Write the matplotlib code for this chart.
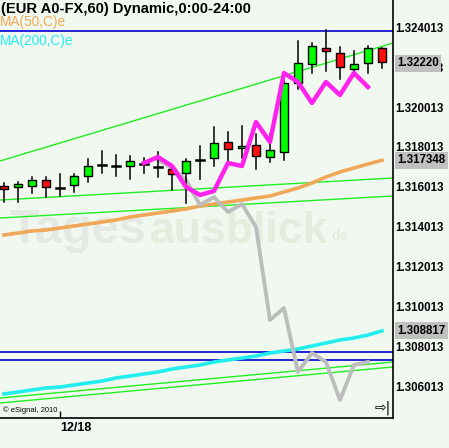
import matplotlib
matplotlib.use("Agg")
import matplotlib.pyplot as plt
from matplotlib.patches import Rectangle

# hourly EUR/USD candles (price values)
opens = [1.316063, 1.316013, 1.316063, 1.316363, 1.315963, 1.316113, 1.316563,
         1.317113, 1.317063, 1.317063, 1.317163, 1.317013, 1.316913, 1.316713,
         1.317363, 1.317463, 1.318263, 1.317963, 1.318113, 1.317513, 1.317763,
         1.321213, 1.322163, 1.322963, 1.322713, 1.321913, 1.322213, 1.322963]
highs = [1.316213, 1.316263, 1.316513, 1.316513, 1.316663, 1.316663, 1.317413,
         1.317813, 1.317613, 1.317563, 1.317463, 1.317763, 1.317063, 1.317413,
         1.318063, 1.319013, 1.318763, 1.319063, 1.318663, 1.318663, 1.321513,
         1.323313, 1.323213, 1.323863, 1.323013, 1.322813, 1.323063, 1.322963]
lows = [1.315263, 1.315263, 1.315713, 1.315513, 1.315563, 1.315763, 1.316263,
        1.316713, 1.316563, 1.316413, 1.316713, 1.316513, 1.315863, 1.315213,
        1.316413, 1.317063, 1.317213, 1.317463, 1.316913, 1.317263, 1.317363,
        1.320913, 1.321713, 1.321813, 1.321413, 1.321563, 1.321713, 1.321963]
closes = [1.315913, 1.316163, 1.316363, 1.316013, 1.315963, 1.316563, 1.317063,
          1.317113, 1.317063, 1.317313, 1.317163, 1.317013, 1.316663, 1.317313,
          1.317363, 1.318213, 1.317913, 1.318063, 1.317563, 1.317863, 1.321213,
          1.322213, 1.323063, 1.322813, 1.322013, 1.322163, 1.322963, 1.322263]

ma50 = [1.313613, 1.313713, 1.313813, 1.313863, 1.313963, 1.314063, 1.314163,
        1.314263, 1.314363, 1.314513, 1.314613, 1.314713, 1.314813, 1.314913,
        1.315063, 1.315163, 1.315263, 1.315363, 1.315463, 1.315563, 1.315763,
        1.315963, 1.316213, 1.316513, 1.316763, 1.316963, 1.317163, 1.317348]
ma200 = [1.305663, 1.305763, 1.305863, 1.305963, 1.306013, 1.306113, 1.306213,
         1.306313, 1.306463, 1.306563, 1.306663, 1.306763, 1.306913, 1.307013,
         1.307113, 1.307263, 1.307363, 1.307463, 1.307563, 1.307713, 1.307813,
         1.307913, 1.308063, 1.308213, 1.308363, 1.308463, 1.308613, 1.308817]

# overlay lines (start at candle 10 / 11)
magenta_start = 10
magenta = [1.317213, 1.317513, 1.317063, 1.316013, 1.315613, 1.315813, 1.317213,
           1.317063, 1.319263, 1.318263, 1.321713, 1.321263, 1.320213, 1.321263,
           1.320613, 1.321713, 1.321013]
gray_start = 11
gray = [1.317363, 1.316963, 1.316363, 1.315113, 1.315513, 1.314763, 1.315163,
        1.314013, 1.309363, 1.309963, 1.306763, 1.307713, 1.307263, 1.305363,
        1.307113, 1.307263]

# trend lines: price at left edge, price at right edge
trend_lines = [(1.317313, 1.323213), (1.315363, 1.316463), (1.314463, 1.315563),
               (1.305463, 1.307263), (1.305213, 1.307013)]
blue_levels = [1.323813, 1.307763, 1.307363]

y_ticks = [1.306013, 1.308013, 1.310013, 1.312013, 1.314013,
           1.316013, 1.318013, 1.320013, 1.322013, 1.324013]
marked = [(1.32220, "1.32220"), (1.317348, "1.317348"), (1.308817, "1.308817")]
date_tick = 4
date_label = "12/18"

BG = "#f0f8f0"
W, H = 449, 448
fig = plt.figure(figsize=(W / 100, H / 100), dpi=100, facecolor=BG)
ax = fig.add_axes([0, 30 / H, 393 / W, 418 / H], facecolor=BG)

x_lo, x_hi = -0.286, 27.79
ax.set_xlim(x_lo, x_hi)
ax.set_ylim(1.304463, 1.325363)

# faint watermark
ax.text(10 / 393, 1 - 243 / 418, "Tages", transform=ax.transAxes, fontsize=35,
        fontweight="bold", family="Liberation Sans", color="#e4e9e4", zorder=1)
ax.text(150 / 393, 1 - 243 / 418, "ausblick", transform=ax.transAxes,
        fontsize=32, fontweight="bold", family="Liberation Sans",
        color="#e4ecde", zorder=1)
ax.text(331 / 393, 1 - 240 / 418, "de", transform=ax.transAxes, fontsize=10,
        fontweight="bold", family="Liberation Sans", color="#e4ecde", zorder=1)

for lo, hi in trend_lines:
    ax.plot([x_lo, x_hi], [lo, hi], color="#22ee22", lw=1.0, zorder=2)
for lvl in blue_levels:
    ax.axhline(lvl, color="#0000cc", lw=1.2, zorder=2)

xs = list(range(len(closes)))
ax.plot(xs, ma50, color="#f0a858", lw=2.6, zorder=3)
ax.plot(xs, ma200, color="#22eef0", lw=2.6, zorder=3)
ax.plot(range(gray_start, gray_start + len(gray)), gray, color="#bdbdbd",
        lw=2.8, zorder=3)
ax.plot(range(magenta_start, magenta_start + len(magenta)), magenta,
        color="#ff22ee", lw=3.2, zorder=5)

bw = 0.58
for i, (o, h, l, c) in enumerate(zip(opens, highs, lows, closes)):
    ax.plot([i, i], [l, h], color="black", lw=1.1, zorder=4)
    if abs(c - o) < 1e-7:
        ax.plot([i - bw / 2, i + bw / 2], [o, o], color="black", lw=1.8, zorder=4)
        continue
    col = "#00ff00" if c > o else "#ff1010"
    ax.add_patch(Rectangle((i - bw / 2, min(o, c)), bw, abs(c - o),
                           facecolor=col, edgecolor="black", lw=1.0, zorder=4))

# axes frame
for side in ["top", "left"]:
    ax.spines[side].set_visible(False)
ax.spines["right"].set_linewidth(1.2)
ax.spines["bottom"].set_linewidth(1.2)

ax.yaxis.tick_right()
ax.set_yticks(y_ticks)
ax.set_yticklabels([f"{t:.6f}" for t in y_ticks], fontsize=8.3,
                   fontweight="bold", family="Liberation Sans")
ax.tick_params(axis="y", length=0, pad=1.5)
ax.set_xticks([date_tick])
ax.set_xticklabels([date_label], fontsize=9, fontweight="bold",
                   family="Liberation Sans", ha="left")
ax.tick_params(axis="x", direction="in", length=5, width=1, pad=3)

for val, txt in marked:
    ax.annotate(txt, xy=(1, val), xycoords=("axes fraction", "data"),
                xytext=(3, 0), textcoords="offset points", ha="left", va="center",
                fontsize=8.3, fontweight="bold", family="Liberation Sans",
                bbox=dict(facecolor="#c0c0c0", edgecolor="none", pad=1.8),
                annotation_clip=False, zorder=10)

# header texts
ax.text(0.002, 1 - 9 / 418, "(EUR A0-FX,60) Dynamic,0:00-24:00",
        transform=ax.transAxes, fontsize=10.6, fontweight="bold",
        family="Liberation Sans", va="center", ha="left", zorder=6)
ax.text(0.0, 1 - 22 / 418, "MA(50,C)e", transform=ax.transAxes, fontsize=9.8,
        family="Liberation Sans", color="#f0a858", va="center", zorder=6)
ax.text(0.0, 1 - 41 / 418, "MA(200,C)e", transform=ax.transAxes, fontsize=9.8,
        family="Liberation Sans", color="#22eef0", va="center", zorder=6)
ax.text(3 / 393, 8 / 418, "\u00a9 eSignal, 2010", transform=ax.transAxes,
        fontsize=5.5, family="Liberation Sans", va="center", zorder=6)
ax.text(1 - 18 / 393, 10 / 418, "\u21e8|", transform=ax.transAxes,
        fontsize=10, va="center", zorder=6)

fig.savefig("out.png", dpi=100, facecolor=BG)
